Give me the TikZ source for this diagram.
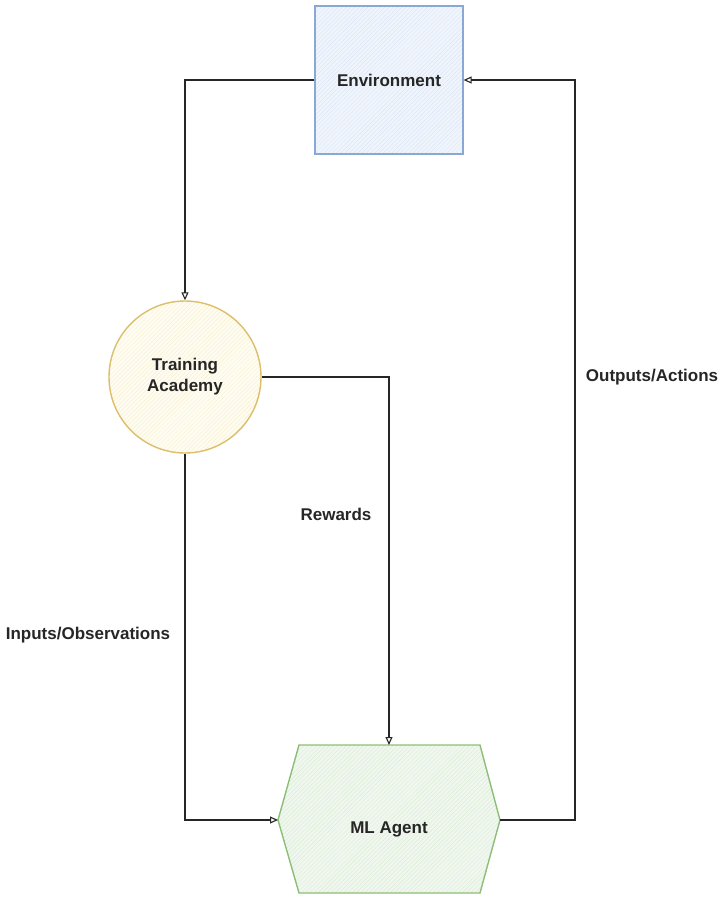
\documentclass[tikz,border=0pt]{standalone}
\usepackage{fontspec}
\setmainfont{Liberation Sans}
\usetikzlibrary{arrows.meta,shapes.geometric,patterns.meta}
\definecolor{envfill}{HTML}{F0F5FD}
\definecolor{envline}{HTML}{8AA8D4}
\definecolor{acfill}{HTML}{FFFCF0}
\definecolor{acline}{HTML}{DCBF6A}
\definecolor{agfill}{HTML}{F0F7EE}
\definecolor{agline}{HTML}{8DBE78}
\tikzset{
  lbl/.style={font=\fontsize{17}{21}\selectfont\bfseries, text=black!85},
  conn/.style={draw=black!85, line width=1.1pt, -{Triangle[open,length=8pt,width=7pt]}},
  hatch/.style={pattern={Lines[angle=45,distance=3pt,line width=0.3pt]}, pattern color=#1},
}
\begin{document}
\begin{tikzpicture}[x=1pt,y=-1pt]
\useasboundingbox (0,0) rectangle (720,897);
% Environment
\fill[envfill] (315,6) rectangle (463,154);
\fill[hatch=envline!35] (315,6) rectangle (463,154);
\node[draw=envline, line width=1.2pt, minimum width=148pt, minimum height=148pt, inner sep=0pt, lbl] (env) at (389,80) {Environment};
% Training academy
\fill[acfill] (185,377) circle (76);
\fill[hatch=acline!30] (185,377) circle (76);
\node[circle, draw=acline, line width=1.4pt, minimum size=152pt, inner sep=0pt, lbl, align=center] (ac) at (185,377) {Training\\Academy};
% ML Agent hexagon
\coordinate (h1) at (299,745);
\coordinate (h2) at (480,745);
\coordinate (hr) at (500,820);
\coordinate (h4) at (480,893);
\coordinate (h5) at (299,893);
\coordinate (hl) at (278,820);
\fill[agfill] (h1)--(h2)--(hr)--(h4)--(h5)--(hl)--cycle;
\fill[hatch=agline!35] (h1)--(h2)--(hr)--(h4)--(h5)--(hl)--cycle;
\draw[agline, line width=1.4pt] (h1)--(h2)--(hr)--(h4)--(h5)--(hl)--cycle;
\node[lbl] (ag) at (389,829) {ML Agent};
\coordinate (agtop) at (389,745);
% connectors
\draw[conn] (env.west) -| (ac.north);
\draw[conn] (ac.east) -| (agtop);
\draw[conn] (ac.south) |- (hl);
\coordinate (outc) at (575,820);
\draw[conn] (hr) -- (outc) |- (env.east);
% labels
\node[lbl] (lout) at (652,377) {Outputs/Actions};
\node[lbl] (lrew) at (336,514) {Rewards};
\node[lbl] (linp) at (88,635) {Inputs/Observations};
\end{tikzpicture}
\end{document}
